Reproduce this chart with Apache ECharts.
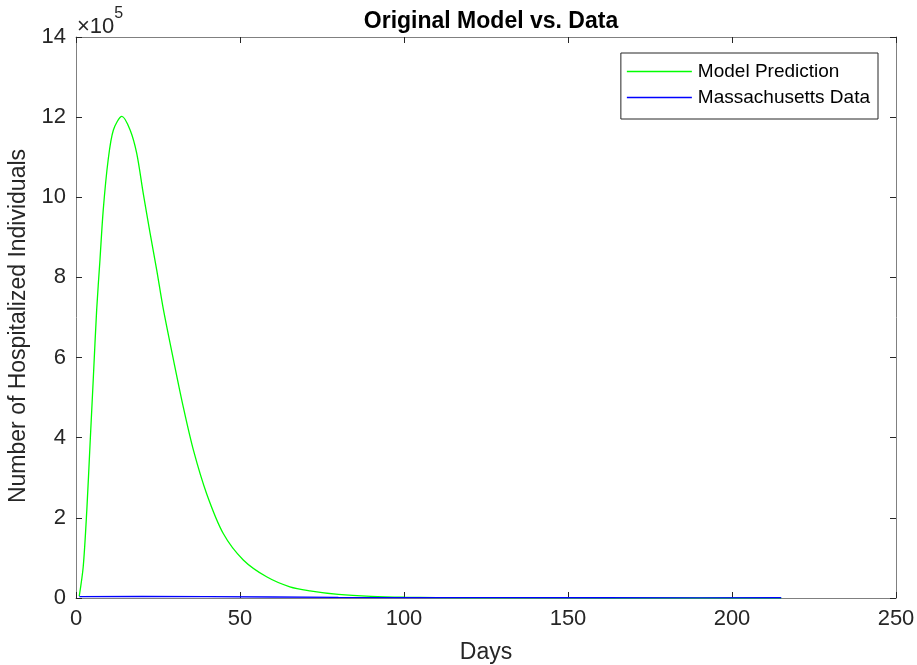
<!DOCTYPE html>
<html>
<head>
<meta charset="utf-8">
<script src="https://cdn.jsdelivr.net/npm/echarts@6/dist/echarts.min.js"></script>
<style>
  html, body { margin: 0; padding: 0; background: #fff; }
  #chart { width: 917px; height: 665px; }
</style>
</head>
<body>
<div id="chart"></div>
<script>
// values are in units of 10^5
var modelDays = [1, 2.2, 3.3, 4.3, 5.3, 6.3, 7.3, 8.3, 9.8, 11.4, 14, 16.5, 18.5, 20.5, 22.6, 24.6, 26.6, 29.7, 32.7, 35.8, 39.8, 44.9, 51, 58.1, 65.2, 71.3, 80, 90, 100, 120, 150, 180, 215];
var modelValues = [0.05, 0.78, 2.2, 3.87, 5.52, 7.19, 8.43, 9.68, 10.93, 11.68, 12.02, 11.68, 11.1, 10.1, 9.1, 8.19, 7.22, 5.95, 4.77, 3.69, 2.61, 1.61, 0.95, 0.53, 0.28, 0.18, 0.09, 0.04, 0.02, 0.005, 0.001, 0, 0];
var dataDays = [1, 20, 40, 60, 80, 100, 130, 160, 190, 215];
var dataValues = [0.035, 0.037, 0.035, 0.025, 0.015, 0.01, 0.008, 0.006, 0.005, 0.006];
var xTicks = [0, 50, 100, 150, 200, 250];
var yTicks = [0, 2, 4, 6, 8, 10, 12, 14];

(function(){
    var myChart = echarts.init(document.getElementById('chart'));
    var pair = function (xs, ys) {
        var res = [];
        for (var i = 0; i < xs.length; i++) res.push([xs[i], ys[i]]);
        return res;
    };
    var txt = '#262626';
    var font = 'Liberation Sans, Arial, sans-serif';
    var axisBase = {
        axisLine: { show: true, onZero: false, lineStyle: { color: '#808080', width: 1 } },
        axisTick: { show: true, inside: true, length: 6, lineStyle: { color: txt } },
        splitLine: { show: false },
        axisLabel: { color: txt, fontSize: 22, fontFamily: font }
    };
    var xMax = xTicks[xTicks.length - 1];
    var yMax = yTicks[yTicks.length - 1];
    var option = {
        animation: false,
        backgroundColor: '#fff',
        title: {
            text: 'Original Model vs. Data',
            left: 486, top: 5, textAlign: 'center',
            textStyle: { color: '#000', fontSize: 23, fontWeight: 'bold', fontFamily: font }
        },
        legend: {
            orient: 'vertical',
            right: 39, top: 53,
            backgroundColor: '#fff',
            borderColor: '#262626', borderWidth: 1,
            padding: [9, 8, 12, 6],
            itemGap: 7,
            itemWidth: 65, itemHeight: 1.5,
            icon: 'rect',
            textStyle: { color: '#000', fontSize: 19, fontFamily: font, padding: [0, 0, 0, 1] },
            data: ['Model Prediction', 'Massachusetts Data']
        },
        grid: { left: 76, right: 21, top: 37, bottom: 67, outerBoundsMode: 'none', containLabel: false },
        xAxis: [
            Object.assign({}, axisBase, {
                type: 'value', min: 0, max: xMax, interval: 50,
                name: 'Days', nameLocation: 'middle', nameGap: 43,
                nameTextStyle: { color: txt, fontSize: 23, fontFamily: font },
                axisLabel: { color: txt, fontSize: 22, fontFamily: font, margin: 10 }
            }),
            Object.assign({}, axisBase, {
                type: 'value', min: 0, max: xMax, interval: 50, position: 'top',
                axisLabel: { show: false }
            })
        ],
        yAxis: [
            Object.assign({}, axisBase, {
                type: 'value', min: 0, max: yMax, interval: 2,
                name: 'Number of Hospitalized Individuals', nameLocation: 'middle', nameGap: 43,
                nameTextStyle: { color: txt, fontSize: 23, fontFamily: font, padding: [0, 17, 0, 0] },
                axisLabel: { color: txt, fontSize: 22, fontFamily: font, margin: 10 }
            }),
            Object.assign({}, axisBase, {
                type: 'value', min: 0, max: yMax, interval: 2, position: 'right',
                axisLabel: { show: false }
            })
        ],
        graphic: [{
            type: 'text', left: 77, top: 6,
            style: {
                text: '{a|\u00d710}{b|5}',
                rich: {
                    a: { fontSize: 22, fill: txt, fontFamily: font, verticalAlign: 'bottom', padding: [10, 0, 0, 0] },
                    b: { fontSize: 16, fill: txt, fontFamily: font, verticalAlign: 'top', padding: [0, 0, 12, 0] }
                }
            }
        }],
        series: [
            {
                name: 'Model Prediction', type: 'line',
                showSymbol: false, smooth: 0.3,
                itemStyle: { color: '#00ff00' },
                lineStyle: { color: '#00ff00', width: 1.3 },
                data: pair(modelDays, modelValues)
            },
            {
                name: 'Massachusetts Data', type: 'line',
                showSymbol: false,
                itemStyle: { color: '#0000ff' },
                lineStyle: { color: '#0000ff', width: 1.3 },
                data: pair(dataDays, dataValues)
            }
        ]
    };
    myChart.setOption(option);
    window.addEventListener('resize', function(){
        myChart.resize();
    });
})();
</script>
</body>
</html>
